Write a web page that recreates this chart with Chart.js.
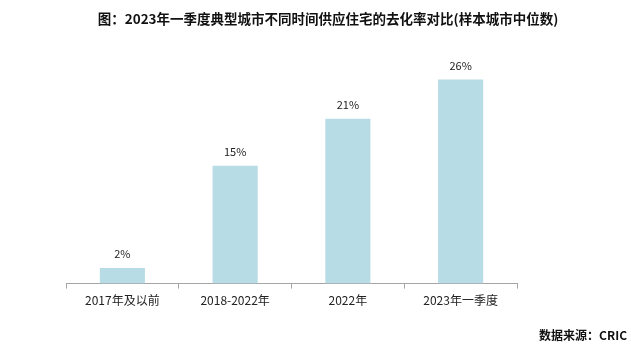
<!DOCTYPE html>
<html>
<head>
<meta charset="utf-8">
<script src="https://cdn.jsdelivr.net/npm/chart.js@4/dist/chart.umd.min.js"></script>
<style>
html,body{margin:0;padding:0;background:#fff;}
#wrap{width:631px;height:354px;}
</style>
</head>
<body>
<div id="wrap"><canvas id="c" width="631" height="354"></canvas></div>
<script>
const categories = ["2017年及以前", "2018-2022年", "2022年", "2023年一季度"];
const values = [2, 15, 21, 26];
const titleText = "图：2023年一季度典型城市不同时间供应住宅的去化率对比(样本城市中位数)";
const sourceText = "数据来源：CRIC";

const FONT = "'Noto Sans CJK SC', 'Noto Sans', sans-serif";

const labelPlugin = {
  id: 'valueLabels',
  afterDatasetsDraw(chart) {
    const ctx = chart.ctx;
    const meta = chart.getDatasetMeta(0);
    ctx.save();
    ctx.font = "11px " + FONT;
    ctx.fillStyle = "#222";
    ctx.textAlign = "center";
    ctx.textBaseline = "middle";
    meta.data.forEach((bar, i) => {
      ctx.fillText(values[i] + "%", bar.x, bar.y - 14);
    });
    ctx.restore();
  }
};

const textPlugin = {
  id: 'headerFooter',
  afterDraw(chart) {
    const ctx = chart.ctx;
    ctx.save();
    ctx.fillStyle = "#111";
    ctx.textBaseline = "middle";
    ctx.font = "bold 13.5px " + FONT;
    ctx.textAlign = "center";
    ctx.fillText(titleText, 328, 19);
    ctx.font = "bold 12px " + FONT;
    ctx.textAlign = "right";
    ctx.fillText(sourceText, 627, 335);
    ctx.restore();
  }
};

new Chart(document.getElementById('c'), {
  type: 'bar',
  data: {
    labels: categories,
    datasets: [{
      data: values,
      backgroundColor: '#b7dce5',
      borderWidth: 0,
      categoryPercentage: 0.8,
      barPercentage: 0.5
    }]
  },
  options: {
    responsive: false,
    animation: false,
    devicePixelRatio: 1,
    layout: { padding: { left: 66, right: 114, top: 48, bottom: 41 } },
    plugins: {
      legend: { display: false },
      tooltip: { enabled: false },
      title: { display: false }
    },
    scales: {
      x: {
        grid: {
          display: true,
          offset: true,
          drawOnChartArea: false,
          drawTicks: true,
          tickLength: 5,
          color: '#a6a6a6'
        },
        border: { display: true, color: '#a6a6a6', width: 1 },
        ticks: {
          color: '#222',
          font: { family: FONT, size: 12 },
          padding: 5,
          maxRotation: 0
        }
      },
      y: {
        display: false,
        min: 0,
        max: 30
      }
    }
  },
  plugins: [labelPlugin, textPlugin]
});
</script>
</body>
</html>
